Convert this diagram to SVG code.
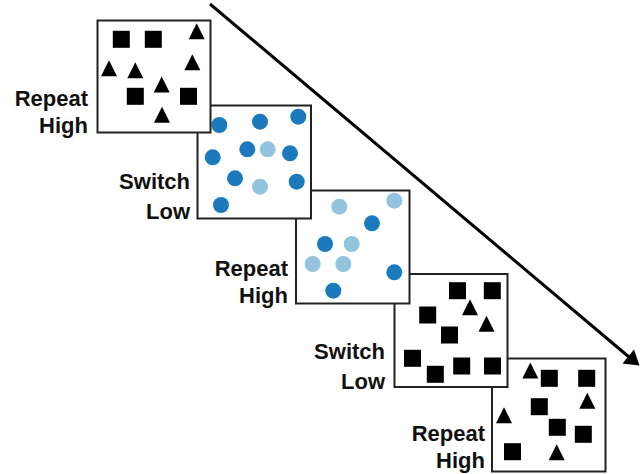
<svg xmlns="http://www.w3.org/2000/svg" xmlns:xlink="http://www.w3.org/1999/xlink" width="644" height="474" viewBox="0 0 644 474">
  <style>
    .box { fill: #ffffff; stroke: #222222; stroke-width: 2; }
    .shape { fill: #000000; }
    .dark { fill: #1a7abd; }
    .light { fill: #92c4df; }
    .lbl { font-family: "Liberation Sans", Arial, sans-serif; font-weight: bold; font-size: 22px; fill: #111111; text-anchor: end; }
    .arrow { stroke: #000000; stroke-width: 3; fill: none; }
  </style>
  <defs>
    <rect id="sq" x="-8.5" y="-8.5" width="17" height="17"/>
    <polygon id="tri" points="0,-8 8,8 -8,8"/>
  </defs>
  <rect width="644" height="474" fill="#ffffff"/>

  <g id="connectors">
    <line class="arrow" x1="210" y1="4" x2="629" y2="357"/>
    <polygon points="639.5,365.5 622.5,363.5 634,349.5" fill="#000000"/>
  </g>

  <g id="panel5">
    <rect class="box" x="492" y="358.5" width="113.5" height="113"/>
    <g class="shape">
      <use xlink:href="#tri" x="530.3" y="370.5"/>
      <use xlink:href="#sq" x="549.3" y="378.3"/>
      <use xlink:href="#sq" x="586.7" y="378.3"/>
      <use xlink:href="#tri" x="587.3" y="400.8"/>
      <use xlink:href="#sq" x="539.3" y="406.7"/>
      <use xlink:href="#tri" x="504" y="415.3"/>
      <use xlink:href="#sq" x="557.3" y="427.3"/>
      <use xlink:href="#sq" x="583.3" y="434.3"/>
      <use xlink:href="#sq" x="512.5" y="451.7"/>
      <use xlink:href="#tri" x="556.7" y="452.2"/>
    </g>
    <text class="lbl" x="485" y="441">Repeat</text>
    <text class="lbl" x="485" y="468">High</text>
  </g>

  <g id="panel4">
    <rect class="box" x="394.5" y="274" width="113" height="113"/>
    <g class="shape">
      <use xlink:href="#sq" x="457.5" y="290.7"/>
      <use xlink:href="#sq" x="492.3" y="290.7"/>
      <use xlink:href="#tri" x="470" y="307.2"/>
      <use xlink:href="#sq" x="427.7" y="315"/>
      <use xlink:href="#tri" x="486.5" y="323.7"/>
      <use xlink:href="#sq" x="449.5" y="335"/>
      <use xlink:href="#sq" x="412.5" y="358.3"/>
      <use xlink:href="#sq" x="435.3" y="374.3"/>
      <use xlink:href="#sq" x="461.7" y="366"/>
      <use xlink:href="#sq" x="492.5" y="366"/>
    </g>
    <text class="lbl" x="385" y="359">Switch</text>
    <text class="lbl" x="385" y="389">Low</text>
  </g>

  <g id="panel3">
    <rect class="box" x="296" y="190.5" width="113.5" height="113"/>
    <circle class="light" cx="339.3" cy="206.7" r="8"/>
    <circle class="light" cx="394.3" cy="200.7" r="8"/>
    <circle class="dark" cx="372" cy="223.3" r="8"/>
    <circle class="dark" cx="325" cy="244" r="8"/>
    <circle class="light" cx="351.7" cy="244" r="8"/>
    <circle class="light" cx="312.7" cy="264" r="8"/>
    <circle class="light" cx="343.3" cy="264" r="8"/>
    <circle class="dark" cx="394.3" cy="272.3" r="8"/>
    <circle class="dark" cx="333.3" cy="290.7" r="8"/>
    <text class="lbl" x="288" y="276">Repeat</text>
    <text class="lbl" x="288" y="303">High</text>
  </g>

  <g id="panel2">
    <rect class="box" x="197.5" y="105.5" width="113.5" height="113"/>
    <circle class="dark" cx="219.3" cy="125" r="8"/>
    <circle class="dark" cx="260" cy="121.7" r="8"/>
    <circle class="dark" cx="298.3" cy="116.7" r="8"/>
    <circle class="dark" cx="247.3" cy="149.3" r="8"/>
    <circle class="light" cx="267.7" cy="149.3" r="8"/>
    <circle class="dark" cx="212.7" cy="157.3" r="8"/>
    <circle class="dark" cx="290" cy="153.3" r="8"/>
    <circle class="dark" cx="235" cy="178.3" r="8"/>
    <circle class="light" cx="260" cy="186.7" r="8"/>
    <circle class="dark" cx="296.7" cy="181.7" r="8"/>
    <circle class="dark" cx="221" cy="205" r="8"/>
    <text class="lbl" x="190" y="189">Switch</text>
    <text class="lbl" x="190" y="219">Low</text>
  </g>

  <g id="panel1">
    <rect class="box" x="97.5" y="20.5" width="113" height="112"/>
    <g class="shape">
      <use xlink:href="#sq" x="121.3" y="39.3"/>
      <use xlink:href="#sq" x="153.3" y="39.3"/>
      <use xlink:href="#tri" x="196.7" y="31.2"/>
      <use xlink:href="#tri" x="109" y="68.3"/>
      <use xlink:href="#tri" x="135.3" y="70.3"/>
      <use xlink:href="#tri" x="192.3" y="62.2"/>
      <use xlink:href="#tri" x="161.7" y="84.5"/>
      <use xlink:href="#sq" x="135.3" y="96.3"/>
      <use xlink:href="#sq" x="188.5" y="96.3"/>
      <use xlink:href="#tri" x="162" y="114.7"/>
    </g>
    <text class="lbl" x="88" y="106">Repeat</text>
    <text class="lbl" x="88" y="133">High</text>
  </g>
</svg>
